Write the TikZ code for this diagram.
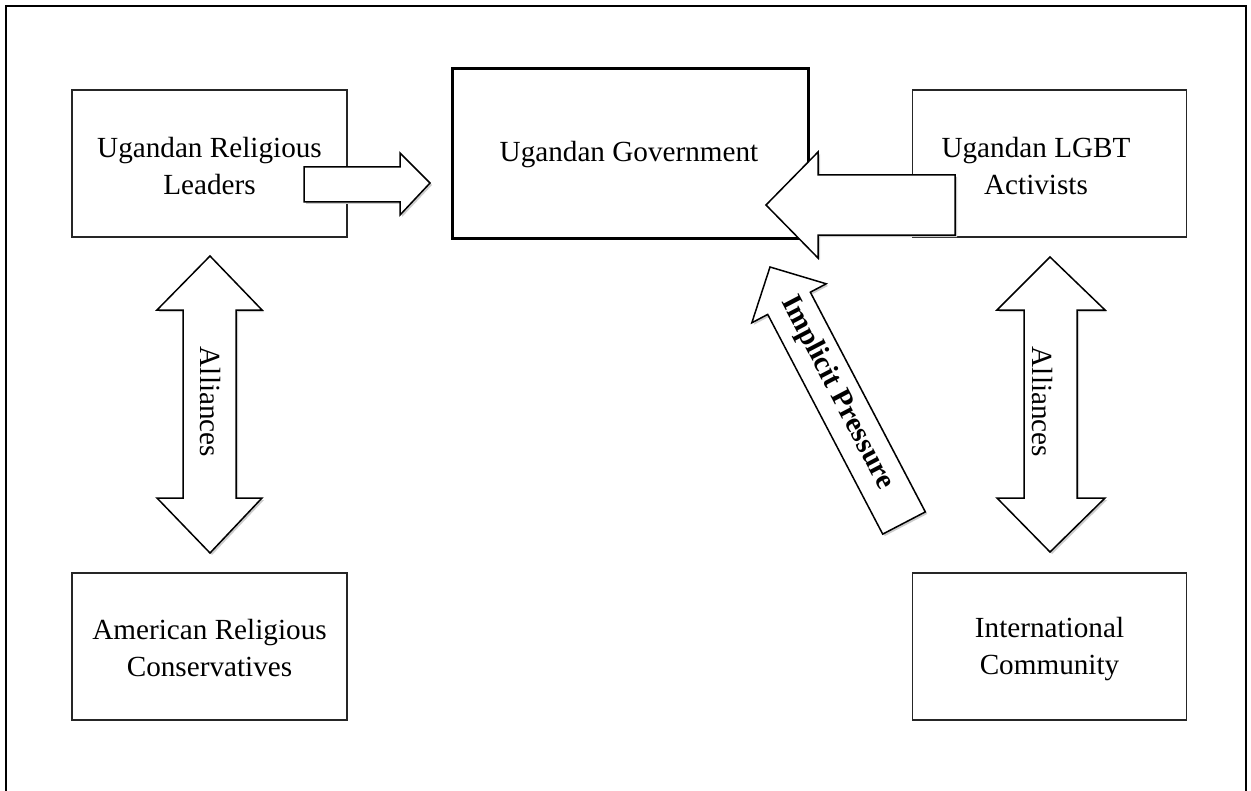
\documentclass[tikz,border=0pt]{standalone}
\usepackage{fontspec}
\setmainfont{Liberation Serif}
\begin{document}
\begin{tikzpicture}[x=0.5pt,y=-0.5pt,
  box/.style={draw=black!85,line width=0.8pt,fill=white,inner sep=0pt},
  govbox/.style={draw=black,line width=1.5pt,fill=white,inner sep=0pt},
  lbl/.style={font=\fontsize{14.6pt}{18.5pt}\selectfont,align=center,inner sep=0pt},
  blockarrow/.style={draw=black,line width=0.75pt,fill=white,line join=miter},
  shadowarrow/.style={fill=black!20,draw=none}]
\useasboundingbox (0,0) rectangle (1251,791);
% outer frame (open at the bottom of the view)
\draw[line width=1pt] (6,800) -- (6,6) -- (1246,6) -- (1246,800);
% boxes
\node[box,minimum width=137.5pt,minimum height=73.5pt] (rel) at (209.5,163.5) {};
\node[govbox,minimum width=178pt,minimum height=84.5pt] (gov) at (630,153.5) {};
\node[box,minimum width=137pt,minimum height=73.5pt] (lgbt) at (1049.5,163.5) {};
\node[box,minimum width=137.5pt,minimum height=73.5pt] (amer) at (209.5,646.5) {};
\node[box,minimum width=137pt,minimum height=73.5pt] (intl) at (1049.5,646.5) {};
% labels
\node[lbl] (relt) at (209.5,166) {Ugandan Religious\\Leaders};
\node[lbl] (govt) at (629,155) {Ugandan Government};
\node[lbl] (lgbtt) at (1036,166) {Ugandan LGBT\\Activists};
\node[lbl] (amert) at (209.5,648) {American Religious\\Conservatives};
\node[lbl] (intlt) at (1049.5,649) {International\\Community};
% right block arrow: religious leaders -> government
\fill[shadowarrow] (306,169) -- (402,169) -- (402,155) -- (432,185) -- (402,217) -- (402,204) -- (306,204) -- cycle;
\draw[blockarrow] (304,167) -- (400,167) -- (400,153) -- (430,183) -- (400,215) -- (400,202) -- (304,202) -- cycle;
% left block arrow: LGBT activists -> government
\fill[shadowarrow] (957,177) -- (820,177) -- (820,154) -- (768,207) -- (820,260) -- (820,237) -- (957,237) -- cycle;
\draw[blockarrow] (955,175) -- (818,175) -- (818,152) -- (766,205) -- (818,258) -- (818,235) -- (955,235) -- cycle;
% implicit pressure arrow
\fill[shadowarrow] (772,269) -- (828.2,285.8) -- (812.3,294.2) -- (927.3,513.9) -- (884.7,536.1) -- (769.7,316.4) -- (753.8,324.8) -- cycle;
\draw[blockarrow] (770,267) -- (826.2,283.8) -- (810.3,292.2) -- (925.3,511.9) -- (882.7,534.1) -- (767.7,314.4) -- (751.8,322.8) -- cycle;
\node[lbl,font=\fontsize{14.6pt}{18pt}\selectfont\bfseries,rotate=-62.4] (imp) at (837,393) {Implicit Pressure};
% left double arrow
\fill[shadowarrow] (212,258) -- (264,312) -- (238,312) -- (238,500) -- (264,500) -- (212,555) -- (159,500) -- (185,500) -- (185,312) -- (159,312) -- cycle;
\draw[blockarrow] (210,256) -- (262,310) -- (236,310) -- (236,498) -- (262,498) -- (210,553) -- (157,498) -- (183,498) -- (183,310) -- (157,310) -- cycle;
\node[lbl,rotate=-90] (all1) at (210,402) {Alliances};
% right double arrow
\fill[shadowarrow] (1052,259) -- (1107,312) -- (1079,312) -- (1079,500) -- (1107,500) -- (1052,554) -- (999,500) -- (1026,500) -- (1026,312) -- (999,312) -- cycle;
\draw[blockarrow] (1050,257) -- (1105,310) -- (1077,310) -- (1077,498) -- (1105,498) -- (1050,552) -- (997,498) -- (1024,498) -- (1024,310) -- (997,310) -- cycle;
\node[lbl,rotate=-90] (all2) at (1042,402) {Alliances};
\end{tikzpicture}
\end{document}
